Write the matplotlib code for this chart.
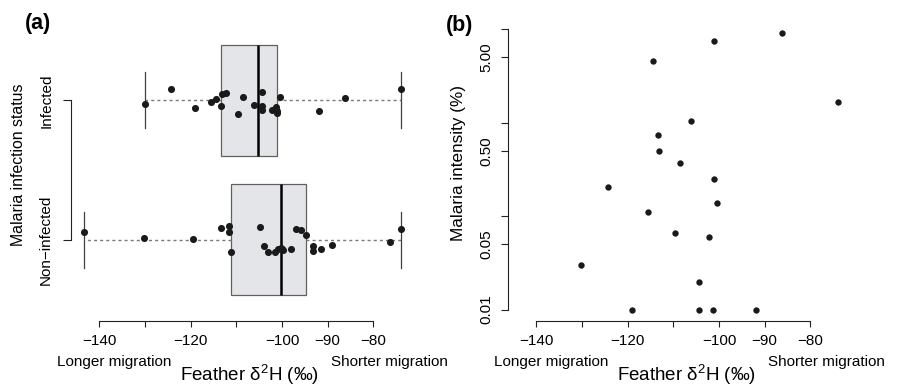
import numpy as np
import matplotlib.pyplot as plt
from matplotlib.transforms import blended_transform_factory

plt.rcParams['font.family'] = ['Liberation Sans', 'DejaVu Sans']
plt.rcParams['mathtext.fontset'] = 'custom'
plt.rcParams['mathtext.rm'] = 'Liberation Sans'
plt.rcParams['axes.unicode_minus'] = True

# feather d2H of infected birds, their jitter in panel (a) and parasite intensity (%)
inf_d2h = [-130.1, -124.4, -119.1, -115.6, -114.5, -113.3, -113.1, -112.3, -109.55, -108.5,
           -106.05, -104.4, -104.4, -104.4, -102.1, -101.4, -101.1, -101.0, -100.4, -91.8,
           -86.1, -73.9]
inf_jit = [-0.029, 0.079, -0.053, -0.01, 0.007, -0.038, 0.043, 0.052, -0.098, 0.024,
           -0.036, 0.059, -0.041, -0.069, -0.067, -0.046, -0.075, -0.093, 0.021, -0.079,
           0.014, 0.079]
inf_intensity = [0.0298, 0.204, 0.01, 0.110, 4.53, 0.743, 0.50, np.nan, 0.0656, 0.373,
                 1.04, 0.0199, 0.01, np.nan, 0.0598, 0.01, 0.25, 7.53, 0.137, 0.01,
                 9.16, 1.65]

# non-infected birds
non_d2h = [-143.35, -130.16, -119.44, -113.46, -111.5, -111.63, -111.06, -104.78, -103.84,
           -103.04, -101.44, -100.78, -100.2, -100.05, -99.82, -97.94, -96.91, -95.89, -94.8,
           -93.26, -93.26, -91.5, -89.04, -76.4, -73.88]
non_jit = [0.057, 0.01, 0.003, 0.081, 0.1, 0.053, -0.09, 0.093, -0.043, -0.088, -0.088,
           -0.069, -0.057, -0.07, -0.076, -0.069, 0.076, 0.067, 0.036, -0.043, -0.079,
           -0.064, -0.036, -0.019, 0.076]

groups = ['Non\u2212infected', 'Infected']
xticks = [-140, -130, -120, -110, -100, -90, -80]
xticklabels = ['\u2212140', '', '\u2212120', '', '\u2212100', '\u221290', '\u221280']
yticks_b = [0.01, 0.05, 0.1, 0.5, 1, 5, 10]
yticklabels_b = ['0.01', '0.05', '', '0.50', '', '5.00', '']


def fivenum(v):
    v = np.sort(np.asarray(v))
    n = len(v)
    n4 = np.floor((n + 3) / 2) / 2
    d = np.array([1, n4, (n + 1) / 2, n + 1 - n4, n])
    return 0.5 * (v[np.floor(d).astype(int) - 1] + v[np.ceil(d).astype(int) - 1])


W, H = 909, 386
fig = plt.figure(figsize=(W / 100, H / 100), dpi=100)

alld = np.array(inf_d2h + non_d2h)
pad = 0.04 * (alld.max() - alld.min())
xlim = (alld.min() - pad, alld.max() + pad)
bottom_px = 320.7
fb = 1 - bottom_px / H

# ---------- panel (a) ----------
ax = fig.add_axes([71.3 / W, fb, 342.7 / W, 301.4 / H])
stats = []
for vals in (non_d2h, inf_d2h):
    lo, q1, med, q3, hi = fivenum(vals)
    stats.append(dict(med=med, q1=q1, q3=q3, whislo=lo, whishi=hi, fliers=[]))
ax.bxp(stats, positions=[1, 2], widths=0.8, capwidths=0.4, orientation='horizontal',
       patch_artist=True, showfliers=False,
       boxprops=dict(facecolor='#e4e5e9', edgecolor='#606060', linewidth=0.9),
       medianprops=dict(color='black', linewidth=1.8),
       whiskerprops=dict(color='#7a7a7a', linewidth=1.0, linestyle=(0, (2.2, 2.2))),
       capprops=dict(color='#404040', linewidth=0.9))
ax.scatter(non_d2h, 1 + np.array(non_jit), s=26, color='#1a1a1a', zorder=5, linewidths=0)
ax.scatter(inf_d2h, 2 + np.array(inf_jit), s=26, color='#1a1a1a', zorder=5, linewidths=0)
ax.set_xlim(xlim)
ax.set_ylim(1 - 81 / 139.4, 2 + 81 / 139.4)

# ---------- panel (b) ----------
iv = np.array(inf_intensity)
ok = ~np.isnan(iv)
lg = np.log10(iv[ok])
lpad = 0.04 * (lg.max() - lg.min())
ylim_b = (10 ** (lg.min() - lpad), 10 ** (lg.max() + lpad))
hb = (lg.max() - lg.min() + 2 * lpad) * 93.5
bx = fig.add_axes([508.3 / W, fb, 342.6 / W, hb / H])
bx.scatter(np.array(inf_d2h)[ok], iv[ok], s=21, color='#1a1a1a', zorder=5, linewidths=0)
bx.set_yscale('log')
bx.set_xlim(xlim)
bx.set_ylim(ylim_b)
bx.set_yticks(yticks_b)
bx.set_yticklabels(yticklabels_b, rotation=90, va='center')
bx.minorticks_off()

for a in (ax, bx):
    for s in ('top', 'right'):
        a.spines[s].set_visible(False)
    a.spines['bottom'].set_bounds(-140, -80)
    a.spines['bottom'].set_color('#222222')
    a.spines['left'].set_color('#222222')
    a.set_xticks(xticks)
    a.set_xticklabels(xticklabels)
    a.tick_params(direction='out', length=4.5, width=0.8, color='#222222',
                  labelsize=11, pad=5)
    trans = blended_transform_factory(a.transData, fig.transFigure)
    a.text(-124.3, 1 - 361.7 / H, 'Longer migration', ha='right', va='center',
           fontsize=11, transform=trans)
    a.text(-89.2, 1 - 361.7 / H, 'Shorter migration', ha='left', va='center',
           fontsize=11, transform=trans)
    a.text(-107, 1 - 381 / H, r'Feather $\mathregular{\delta^2}$H (‰)', ha='center',
           va='baseline', fontsize=13.5, transform=trans)

ax.spines['left'].set_bounds(1, 2)
ax.set_yticks([1, 2])
ax.set_yticklabels(groups, rotation=90, va='center')
ax.tick_params(axis='y', length=6, pad=7)
bx.spines['left'].set_bounds(0.01, 10)
bx.tick_params(axis='y', length=5, pad=6)

fig.text(19 / W, 1 - 165 / H, 'Malaria infection status', rotation=90, ha='center',
         va='center', fontsize=11.4)
fig.text(458 / W, 1 - 163 / H, 'Malaria intensity (%)', rotation=90, ha='center',
         va='center', fontsize=12.3)
fig.text(25 / W, 1 - 24 / H, '(a)', fontsize=15.5, fontweight='bold', va='center')
fig.text(446 / W, 1 - 26 / H, '(b)', fontsize=15.5, fontweight='bold', va='center')

fig.savefig('out.png', dpi=100)
